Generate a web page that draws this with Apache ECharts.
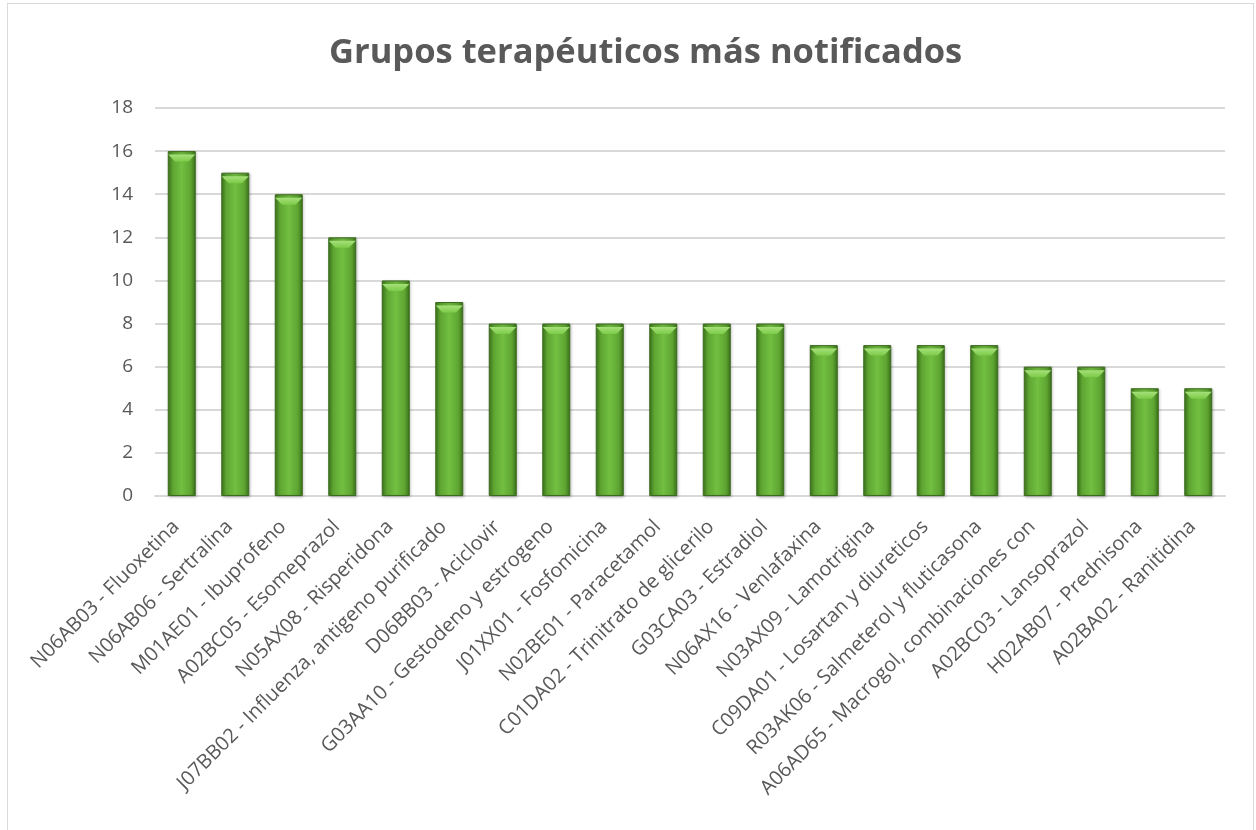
<!DOCTYPE html>
<html>
<head>
<meta charset="utf-8">
<script src="https://cdn.jsdelivr.net/npm/echarts@6/dist/echarts.min.js"></script>
<style>
  html, body { margin: 0; padding: 0; background: #fff; }
  #frame {
    position: absolute; left: 7px; top: 3px; width: 1247px; height: 840px;
    border: 1px solid #d9d9d9; box-sizing: border-box;
  }
  #chart { position: absolute; left: 0; top: 0; width: 1256px; height: 830px; }
</style>
</head>
<body>
<div id="frame"></div>
<div id="chart"></div>
<script>
const chartTitle = 'Grupos terapéuticos más notificados'
const categories = [
  'N06AB03 - Fluoxetina',
  'N06AB06 - Sertralina',
  'M01AE01 - Ibuprofeno',
  'A02BC05 - Esomeprazol',
  'N05AX08 - Risperidona',
  'J07BB02 - Influenza, antigeno purificado',
  'D06BB03 - Aciclovir',
  'G03AA10 - Gestodeno y estrogeno',
  'J01XX01 - Fosfomicina',
  'N02BE01 - Paracetamol',
  'C01DA02 - Trinitrato de glicerilo',
  'G03CA03 - Estradiol',
  'N06AX16 - Venlafaxina',
  'N03AX09 - Lamotrigina',
  'C09DA01 - Losartan y diureticos',
  'R03AK06 - Salmeterol y fluticasona',
  'A06AD65 - Macrogol, combinaciones con',
  'A02BC03 - Lansoprazol',
  'H02AB07 - Prednisona',
  'A02BA02 - Ranitidina',
]
const counts = [16, 15, 14, 12, 10, 9, 8, 8, 8, 8, 8, 8, 7, 7, 7, 7, 6, 6, 5, 5]
const yTicks = { min: 0, max: 18, step: 2 }

const chart = echarts.init(document.getElementById('chart'))

// degradado verde tipo Excel: bordes oscuros, centro claro
const barColor = new echarts.graphic.LinearGradient(0, 0, 1, 0, [
  { offset: 0, color: '#3f7a1c' },
  { offset: 0.18, color: '#5ea532' },
  { offset: 0.5, color: '#72bf41' },
  { offset: 0.82, color: '#5ea532' },
  { offset: 1, color: '#3a7019' },
])
// bisel claro en la parte superior de cada barra
const bevelColor = new echarts.graphic.LinearGradient(0, 0, 0, 1, [
  { offset: 0, color: '#a6e07a' },
  { offset: 1, color: '#7ccb48' },
])

const option = {
  animation: false,
  title: {
    text: chartTitle,
    left: 324,
    top: 31,
    textStyle: {
      fontFamily: 'Open Sans',
      fontWeight: 'bold',
      fontSize: 34.5,
      color: '#595959',
    },
  },
  grid: {
    left: 155,
    right: 31,
    top: 108,
    bottom: 334,
    containLabel: false,
  },
  xAxis: {
    type: 'category',
    data: categories,
    axisLine: { lineStyle: { color: '#d9d9d9', width: 2 } },
    axisTick: { show: false },
    axisLabel: {
      rotate: 45,
      interval: 0,
      margin: 22,
      padding: [0, 8, 0, 0],
      fontFamily: 'Open Sans',
      fontSize: 20,
      color: '#595959',
    },
  },
  yAxis: {
    type: 'value',
    min: yTicks.min,
    max: yTicks.max,
    interval: yTicks.step,
    axisLine: { show: false },
    axisTick: { show: false },
    splitLine: { lineStyle: { color: '#d9d9d9', width: 2 } },
    axisLabel: {
      margin: 22,
      fontFamily: 'Open Sans',
      fontSize: 19,
      color: '#595959',
    },
  },
  series: [
    {
      type: 'bar',
      data: counts,
      barWidth: 28,
      itemStyle: {
        color: barColor,
        borderColor: '#3b6b1e',
        borderWidth: 1,
        shadowColor: 'rgba(0,0,0,0.25)',
        shadowBlur: 3,
        shadowOffsetX: 1,
        shadowOffsetY: 1,
      },
    },
    {
      type: 'pictorialBar',
      data: counts,
      symbol: 'path://M0,0 L28,0 L21,8 L7,8 Z',
      symbolSize: [27, 7],
      symbolPosition: 'end',
      symbolOffset: [0, '50%'],
      barGap: '-100%',
      z: 3,
      itemStyle: { color: bevelColor },
      silent: true,
    },
  ],
}
chart.setOption(option)
</script>
</body>
</html>
